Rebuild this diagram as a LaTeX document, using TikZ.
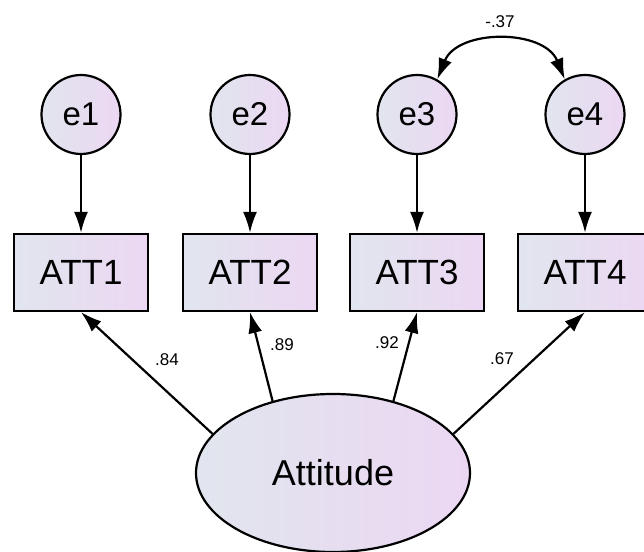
\documentclass[tikz,border=0pt]{standalone}
\usepackage{fontspec}
\setmainfont{Liberation Sans}
\usetikzlibrary{arrows.meta,shapes.geometric}
\definecolor{semleft}{RGB}{225,229,238}
\definecolor{semright}{RGB}{236,215,243}
\tikzset{
	errvar/.style={circle,draw,line width=1.1pt,left color=semleft,right color=semright,
		minimum size=39.5pt,inner sep=0pt,font=\fontsize{16.5}{18}\selectfont},
	obsvar/.style={rectangle,draw,line width=1.1pt,left color=semleft,right color=semright,
		minimum width=67pt,minimum height=38.5pt,inner sep=0pt,font=\fontsize{17.5}{20}\selectfont},
	latvar/.style={ellipse,draw,line width=1.1pt,left color=semleft,right color=semright,
		minimum width=137pt,minimum height=79pt,inner sep=0pt,font=\fontsize{18}{20}\selectfont},
	semarrow/.style={line width=1.1pt,arrows={-{Latex[length=10.5pt,width=7pt]}}},
	coef/.style={inner sep=0pt,font=\fontsize{8.5}{10}\selectfont}
}
\begin{document}
\begin{tikzpicture}[x=0.5pt,y=0.5pt]
	\useasboundingbox (0,0) rectangle (644,552);

	\node [latvar] (att) at (333,79) {Attitude};

	\node [obsvar] (att1) at (81,279.5) {ATT1};
	\node [obsvar] (att2) at (250,279.5) {ATT2};
	\node [obsvar] (att3) at (417,279.5) {ATT3};
	\node [obsvar] (att4) at (585,279.5) {ATT4};

	\node [errvar] (e1) at (81,437.5) {e1};
	\node [errvar] (e2) at (250,437.5) {e2};
	\node [errvar] (e3) at (417,437.5) {e3};
	\node [errvar] (e4) at (585,437.5) {e4};

	\draw [semarrow] (e1) -- (att1);
	\draw [semarrow] (e2) -- (att2);
	\draw [semarrow] (e3) -- (att3);
	\draw [semarrow] (e4) -- (att4);

	\draw [semarrow] (att.162) -- (att1.south);
	\draw [semarrow] (att.130) -- (att2.south);
	\draw [semarrow] (att.50) -- (att3.south);
	\draw [semarrow] (att.18) -- (att4.south);

	\draw [semarrow,arrows={{Latex[length=10.5pt,width=7pt]}-{Latex[length=10.5pt,width=7pt]}}]
		(e3.60) to [out=68,in=112,looseness=1.1] (e4.120);

	\node [coef] (l1) at (167,192) {.84};
	\node [coef] (l2) at (282,207) {.89};
	\node [coef] (l3) at (387,209) {.92};
	\node [coef] (l4) at (502,193) {.67};
	\node [coef] (l34) at (500,530) {-.37};
\end{tikzpicture}
\end{document}
